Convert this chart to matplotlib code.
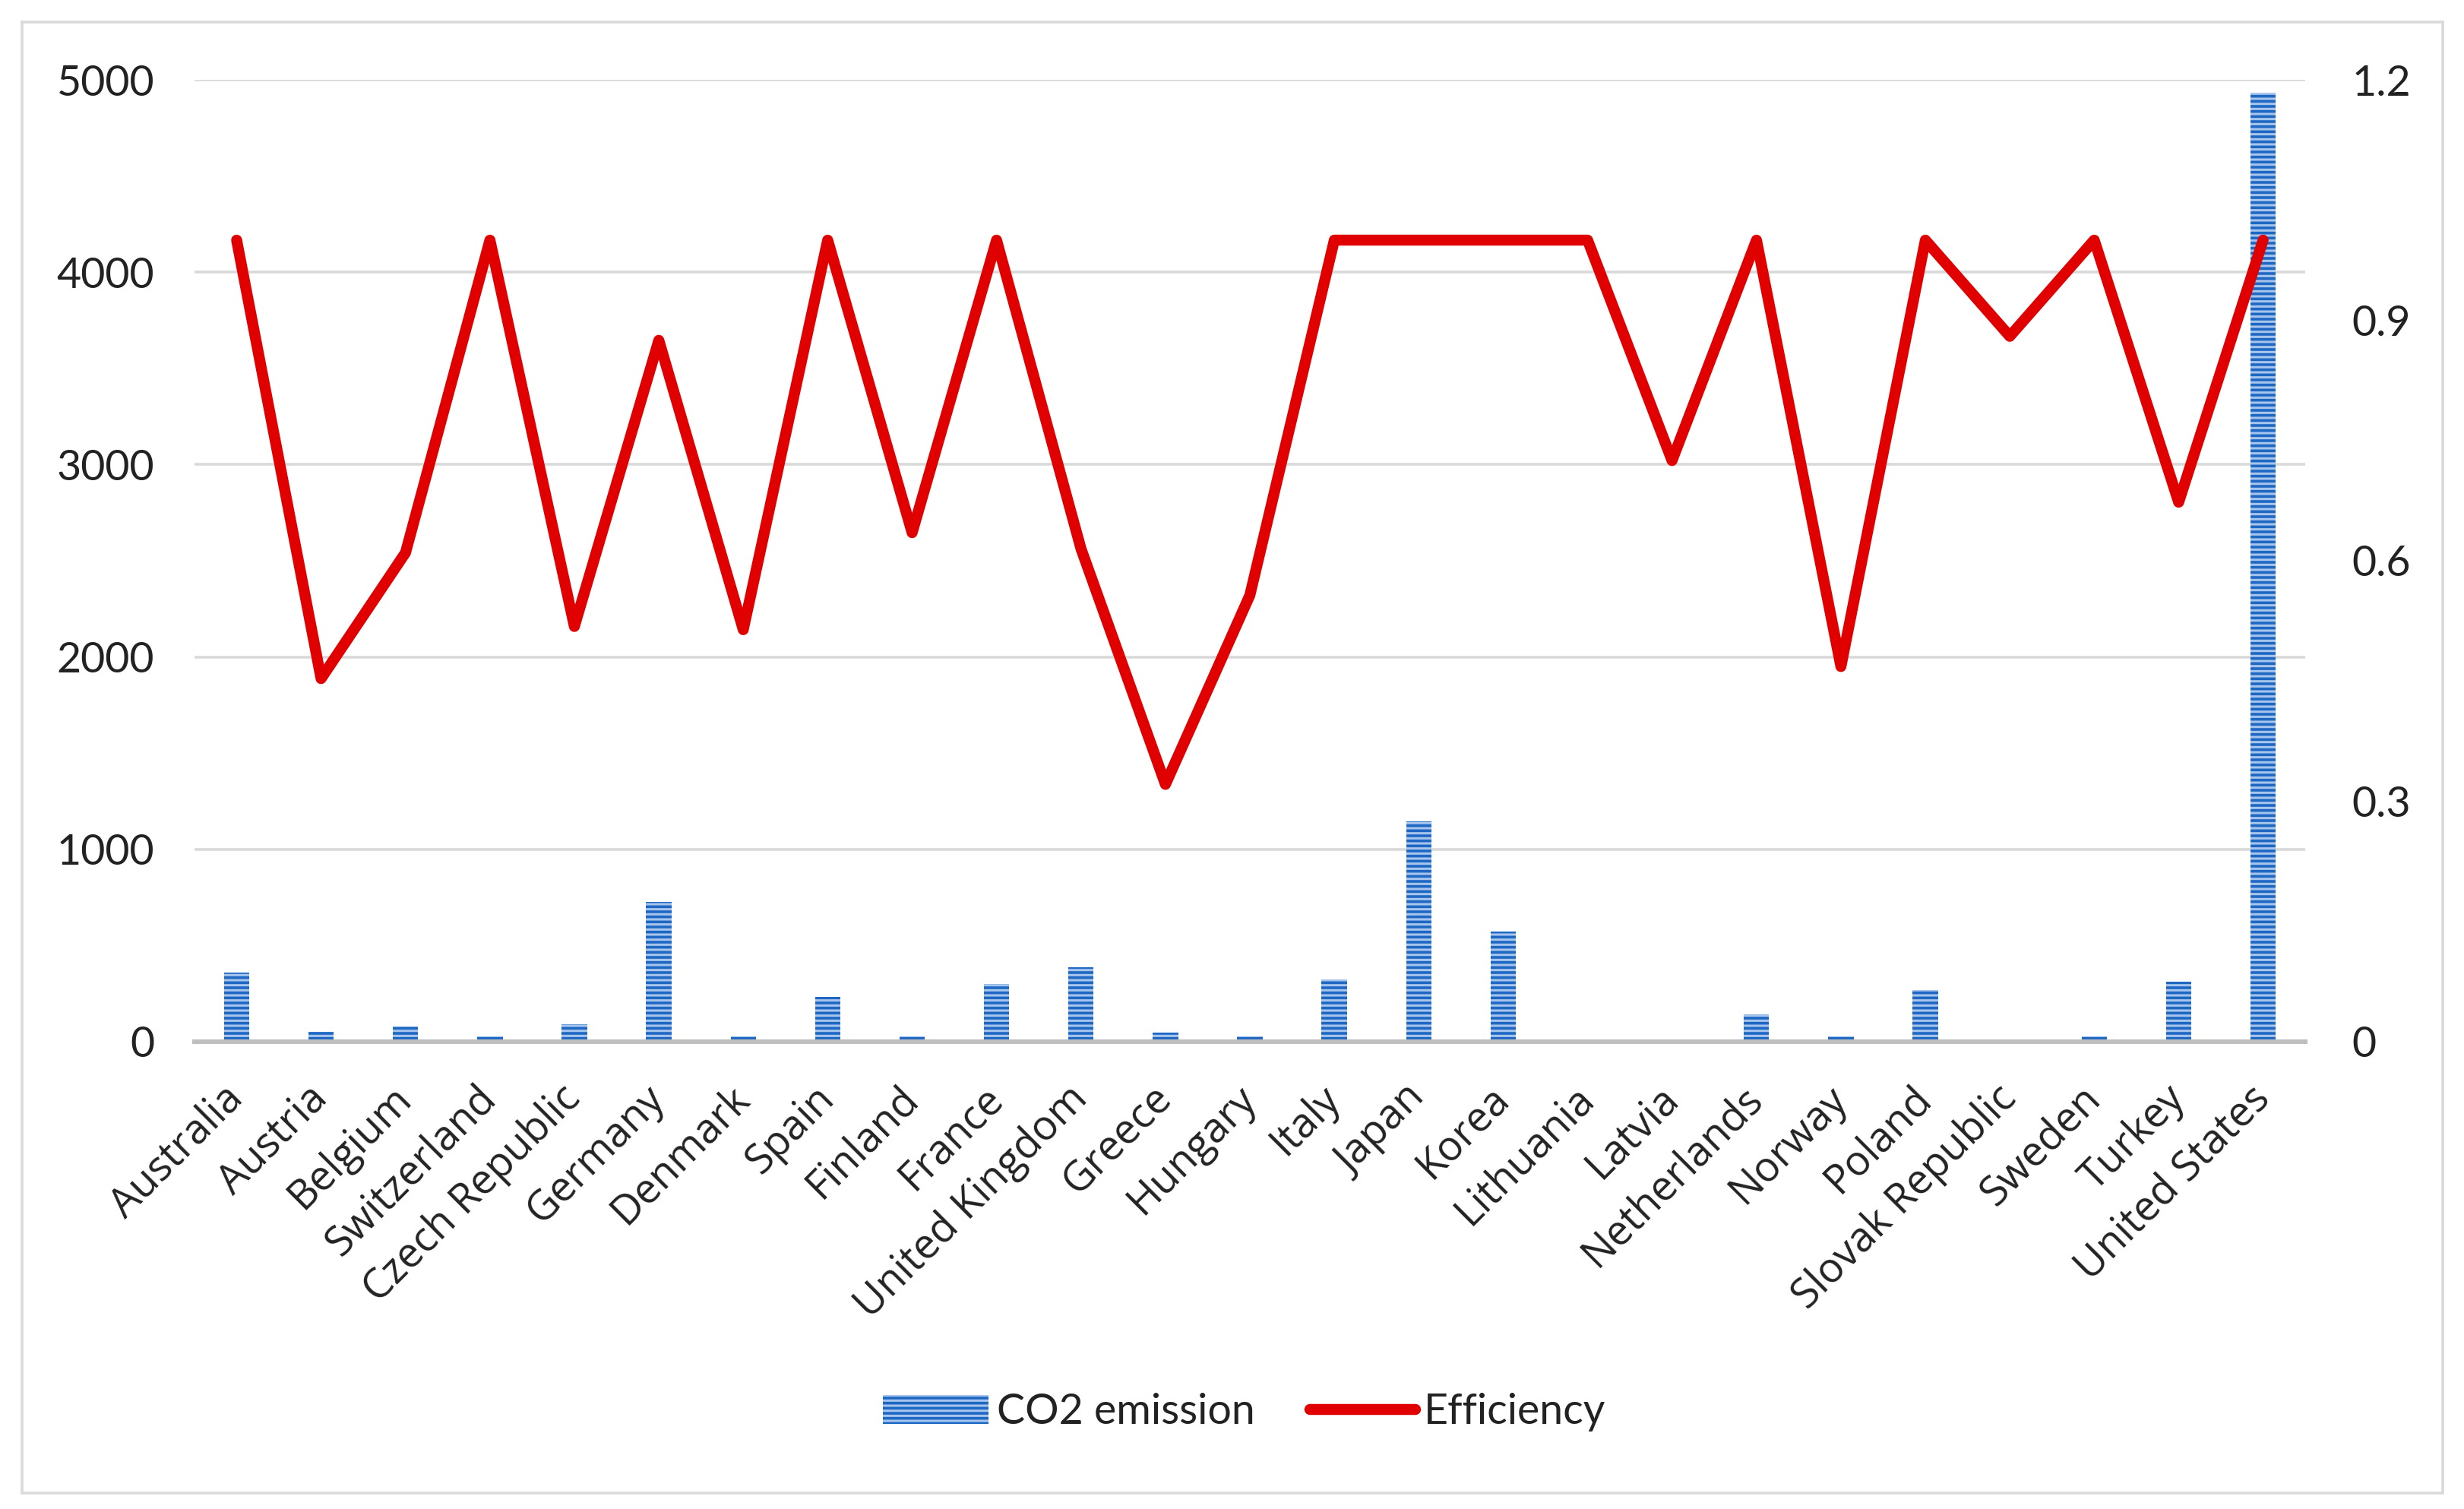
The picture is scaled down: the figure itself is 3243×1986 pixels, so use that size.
import matplotlib
matplotlib.use("Agg")
import matplotlib.pyplot as plt
from matplotlib.patches import Rectangle

countries = ["Australia", "Austria", "Belgium", "Switzerland", "Czech Republic",
             "Germany", "Denmark", "Spain", "Finland", "France", "United Kingdom",
             "Greece", "Hungary", "Italy", "Japan", "Korea", "Lithuania", "Latvia",
             "Netherlands", "Norway", "Poland", "Slovak Republic", "Sweden",
             "Turkey", "United States"]

# CO2 emission (left axis)
co2 = [361, 50, 77, 28, 91, 726, 28, 232, 28, 300, 386, 49, 28, 322, 1145,
       572, 10, 7, 141, 28, 270, 10, 28, 310, 4935]

# Efficiency (right axis)
efficiency = [1.0, 0.453, 0.61, 1.0, 0.518, 0.875, 0.514, 1.0, 0.635, 1.0,
              0.615, 0.321, 0.557, 1.0, 1.0, 1.0, 1.0, 0.725, 1.0, 0.468,
              1.0, 0.88, 1.0, 0.673, 1.0]

left_ticks = [0, 1000, 2000, 3000, 4000, 5000]
right_ticks = [0, 0.3, 0.6, 0.9, 1.2]

plt.rcParams['hatch.linewidth'] = 1.1

fig = plt.figure(figsize=(16.215, 9.93), dpi=200)
ax1 = fig.add_axes([0.0789, 0.3097, 0.9356 - 0.0789, 0.9471 - 0.3097])
ax2 = ax1.twinx()

x = list(range(len(countries)))
bars = ax1.bar(x, co2, width=0.3, color='#1E68C4', edgecolor='#A7C5EC',
               linewidth=0, hatch='-----', label='CO2 emission', zorder=2)
line, = ax2.plot(x, efficiency, color='#E00000', linewidth=5.2,
                 solid_joinstyle='round', solid_capstyle='round',
                 label='Efficiency', zorder=3)

ax1.set_xlim(-0.5, len(countries) - 0.5)
ax1.set_ylim(0, 5000)
ax2.set_ylim(0, 1.2)

ax1.set_yticks(left_ticks)
ax1.set_yticklabels([str(t) for t in left_ticks], fontsize=20,
                    family='Lato', color='#222222')
ax2.set_yticks(right_ticks)
ax2.set_yticklabels(['0', '0.3', '0.6', '0.9', '1.2'], fontsize=20,
                    family='Lato', color='#222222')

ax1.set_xticks(x)
ax1.set_xticklabels(countries, rotation=45, ha='right', va='center',
                    rotation_mode='anchor', fontsize=19.5, family='Open Sans',
                    color='#222222')

ax1.tick_params(axis='x', length=0, pad=24)
ax1.tick_params(axis='y', length=0, pad=19)
ax2.tick_params(axis='y', length=0, pad=22)

ax1.grid(axis='y', color='#D9D9D9', linewidth=1.3, zorder=0)
ax1.set_axisbelow(True)

for ax in (ax1, ax2):
    for side in ('left', 'right', 'top', 'bottom'):
        ax.spines[side].set_visible(False)
ax1.spines['bottom'].set_visible(True)
ax1.spines['bottom'].set_color('#BFBFBF')
ax1.spines['bottom'].set_linewidth(2.2)
ax1.spines['bottom'].set_zorder(2.5)

fig.legend([bars, line], ['CO2 emission', 'Efficiency'], loc='center',
           bbox_to_anchor=(0.505, 0.064), ncol=2, frameon=False,
           prop={'family': 'Lato', 'size': 20}, handlelength=2.5,
           handletextpad=0.2, columnspacing=1.3, labelcolor='#222222')

# outer chart border
fig.add_artist(Rectangle((0.0089, 0.0106), 0.9825, 0.975,
                         transform=fig.transFigure, fill=False,
                         edgecolor='#D9D9D9', linewidth=1.3))

fig.savefig('out.png', dpi=200, facecolor='white')
